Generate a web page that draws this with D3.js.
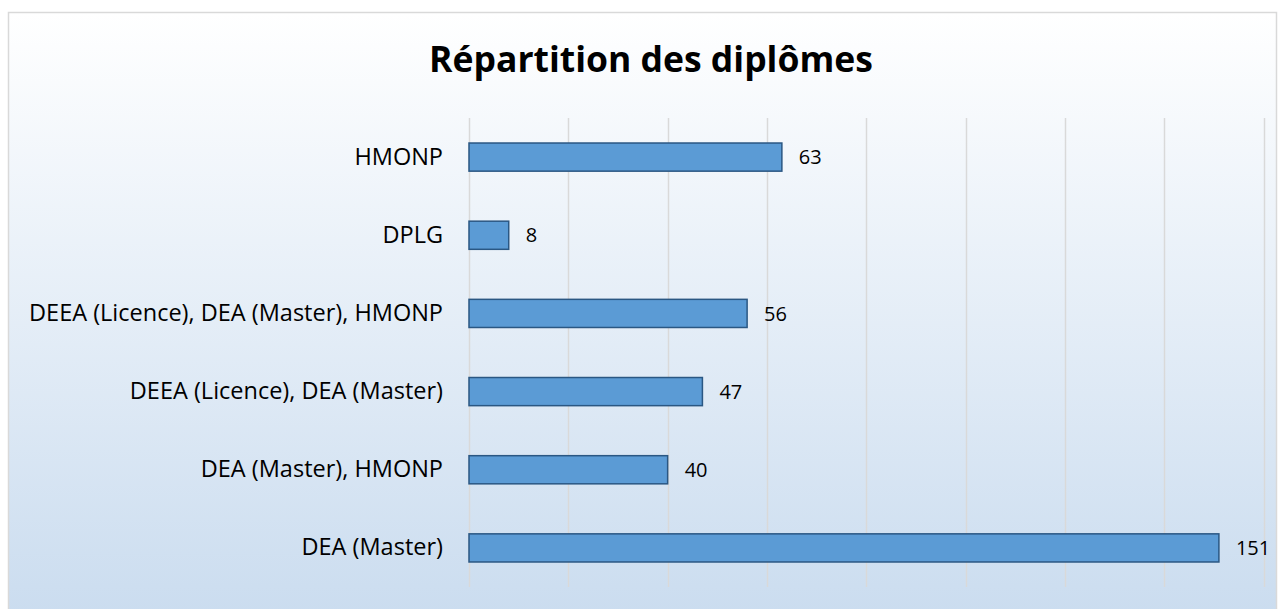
<!DOCTYPE html>
<html>
<head>
<meta charset="utf-8">
<script src="https://cdn.jsdelivr.net/npm/d3@7"></script>
<style>
  body { margin: 0; background: #fff; }
  svg { display: block; }
</style>
</head>
<body>
<div id="chart"></div>
<script>
"use strict";
const categories = [
    "HMONP",
    "DPLG",
    "DEEA (Licence), DEA (Master), HMONP",
    "DEEA (Licence), DEA (Master)",
    "DEA (Master), HMONP",
    "DEA (Master)"
];
const values = [63, 8, 56, 47, 40, 151];
const xTicks = [0, 20, 40, 60, 80, 100, 120, 140, 160];
const title = "Répartition des diplômes";

const width = 1281, height = 609; // px
const margin = {top: 118, right: 17, bottom: 22, left: 469}; // px
const font = "'Open Sans', sans-serif";

const svg = d3.select("#chart")
    .append("svg")
    .attr("width", width)
    .attr("height", height);

// background gradient, white -> pale blue
const grad = svg.append("defs")
    .append("linearGradient")
    .attr("id", "bg")
    .attr("x1", 0).attr("y1", 0).attr("x2", 0).attr("y2", 1);
grad.append("stop").attr("offset", "0%").attr("stop-color", "#ffffff");
grad.append("stop").attr("offset", "100%").attr("stop-color", "#cadcef");

svg.append("rect")
    .attr("x", 8.5).attr("y", 12.5)
    .attr("width", width - 13).attr("height", height)
    .attr("fill", "url(#bg)")
    .attr("stroke", "#d9d9d9")
    .attr("stroke-width", 1.5);

const x = d3.scaleLinear()
    .domain([0, 160])
    .range([margin.left, width - margin.right - 0.4]);

const y = d3.scaleBand()
    .domain(categories)
    .range([margin.top, height - margin.bottom])
    .paddingInner(0.64)
    .paddingOuter(0.32);

// vertical gridlines
svg.append("g")
    .selectAll("line")
    .data(xTicks)
    .join("line")
    .attr("x1", (d) => Math.round(x(d)) + 0.5)
    .attr("x2", (d) => Math.round(x(d)) + 0.5)
    .attr("y1", margin.top)
    .attr("y2", height - margin.bottom)
    .attr("stroke", "#d9d9d9")
    .attr("stroke-width", 1.5);

// bars
svg.append("g")
    .selectAll("rect")
    .data(values)
    .join("rect")
    .attr("x", x(0))
    .attr("y", (d, i) => y(categories[i]))
    .attr("width", (d) => x(d) - x(0))
    .attr("height", y.bandwidth())
    .attr("fill", "#5b9bd5")
    .attr("stroke", "#2a5783")
    .attr("stroke-width", 1.5);

// value labels
svg.append("g")
    .selectAll("text")
    .data(values)
    .join("text")
    .attr("x", (d) => x(d) + 17)
    .attr("y", (d, i) => y(categories[i]) + y.bandwidth() / 2)
    .attr("dy", "0.36em")
    .style("font", `20px ${font}`)
    .attr("fill", "#000")
    .text((d) => d);

// category axis labels
const yAxis = d3.axisLeft(y).tickSize(0).tickPadding(26);
svg.append("g")
    .attr("transform", `translate(${margin.left},0)`)
    .call(yAxis)
    .call((g) => g.select(".domain").remove())
    .call((g) => g.selectAll("text")
        .style("font", `23.5px ${font}`)
        .attr("fill", "#000"));

// title
svg.append("text")
    .attr("x", 651)
    .attr("y", 72)
    .attr("text-anchor", "middle")
    .style("font", `bold 35.5px ${font}`)
    .attr("fill", "#000")
    .text(title);
</script>
</body>
</html>
